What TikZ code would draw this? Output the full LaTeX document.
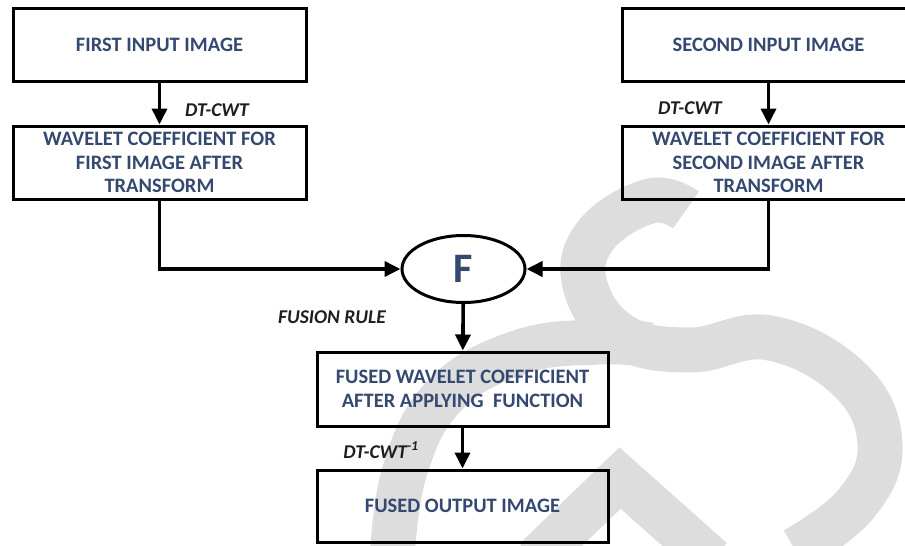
\documentclass[tikz,border=0pt]{standalone}
\usepackage{fontspec}
\setmainfont{Carlito}
\usetikzlibrary{shapes}
\usetikzlibrary{positioning}
\usetikzlibrary{arrows.meta}
\definecolor{boxtext}{RGB}{52,72,112}
\definecolor{lbltext}{RGB}{30,30,30}
\definecolor{wmgray}{RGB}{221,221,221}
\tikzset{
  box/.style={draw, line width=3pt, minimum width=293pt, minimum height=73pt,
    inner sep=2pt, align=center, text=boxtext,
    font=\fontsize{20.5}{23.5}\selectfont\bfseries},
  fuse/.style={draw, ellipse, line width=3pt, minimum width=123pt,
    minimum height=67pt, inner sep=0pt, text=boxtext,
    font=\fontsize{42}{44}\selectfont\bfseries},
  lbl/.style={text=lbltext, inner sep=0pt,
    font=\fontsize{19.5}{21}\selectfont\bfseries\itshape},
  arr/.style={line width=3.6pt, -{Triangle[length=16pt,width=15pt]}},
  wmark/.style={wmgray, line width=45pt, line cap=butt}
}

\begin{document}
\begin{tikzpicture}[x=1pt,y=-1pt]
\useasboundingbox (0,0) rectangle (905,546);
% watermark in the background
\draw[wmark] plot[smooth, tension=0.7] coordinates {(686,210) (650,201) (596,235) (585,285) (622,336) (690,350) (770,338) (850,380) (880,445) (855,505) (795,550)};
\draw[wmark] plot[smooth, tension=0.7] coordinates {(392,560) (405,470) (445,395) (520,352) (600,342) (650,345)};
\draw[wmark] (535,560) -- (620,478) -- (712,560);
% boxes
\node[box] (in1) at (159.5,44.5) {FIRST INPUT IMAGE};
\node[box] (in2) at (768.5,44.5) {SECOND INPUT IMAGE};
\node[box] (wc1) at (159.5,162.5) {WAVELET COEFFICIENT FOR\\FIRST IMAGE AFTER\\TRANSFORM};
\node[box] (wc2) at (768.5,162.5) {WAVELET COEFFICIENT FOR\\SECOND IMAGE AFTER\\TRANSFORM};
\node[fuse] (fn) at (463.5,269) {F};
\node[box, minimum width=291pt, minimum height=74pt] (fw) at (462.5,389) {FUSED WAVELET COEFFICIENT\\AFTER APPLYING\ \ FUNCTION};
\node[box, minimum width=291pt, minimum height=72pt] (out) at (462.5,506) {FUSED OUTPUT IMAGE};
% connectors
\draw[arr] (in1) -- (wc1);
\draw[arr] (in2) -- (wc2);
\draw[arr] (wc1.south) |- (fn.west);
\draw[arr] (wc2.south) |- (fn.east);
\draw[arr] (fn) -- (fw);
\draw[arr] (fw) -- (out);
% labels
\node[lbl] (t1) at (217,110) {DT-CWT};
\node[lbl] (t2) at (690,108) {DT-CWT};
\node[lbl] (t3) at (332,317) {FUSION RULE};
\node[lbl] (t4) at (381,450) {DT-CWT\textsuperscript{-1}};
\end{tikzpicture}
\end{document}
